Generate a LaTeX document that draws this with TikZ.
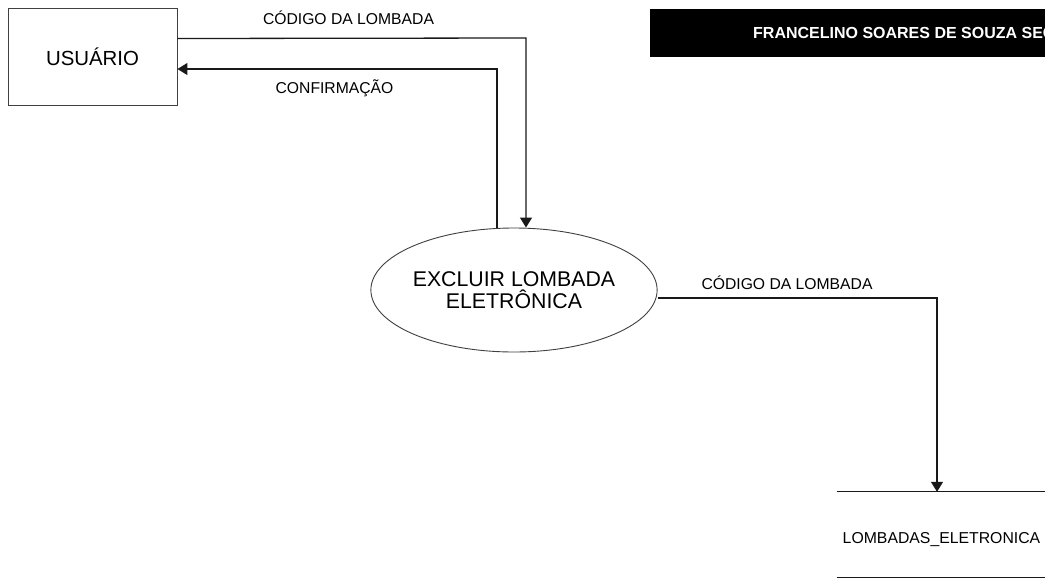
\documentclass[tikz,border=0pt]{standalone}
\usepackage{fontspec}
\setmainfont{Liberation Sans}
\usetikzlibrary{arrows.meta,shapes.geometric}
\tikzset{
  flow/.style={line width=1.3pt, draw=black!90},
  tip/.style={-{Triangle[width=12pt,length=10pt]}},
  lbl/.style={font=\fontsize{15.7}{18}\selectfont, inner sep=0pt},
  entity/.style={draw=black!75, line width=0.9pt, minimum width=169pt, minimum height=97pt, inner sep=0pt, font=\fontsize{20.4}{24}\selectfont},
  proc/.style={ellipse, draw=black!75, line width=0.9pt, minimum width=248pt, minimum height=124pt, inner sep=0pt, align=center, font=\fontsize{21.3}{22.5}\selectfont},
}
\begin{document}
\begin{tikzpicture}[x=1pt,y=-1pt]
\useasboundingbox (0,0) rectangle (1045,587);
\fill[white] (0,0) rectangle (1045,587);

% banner
\node[fill=black, minimum width=395pt, minimum height=48pt, inner sep=0pt, anchor=north west] (banner) at (650,9) {};
\begin{scope}
  \clip (banner.north west) rectangle (banner.south east);
  \node[anchor=west, text=white, inner sep=0pt, font=\fontsize{16}{19}\selectfont\bfseries] (bannertext) at (753,33) {FRANCELINO SOARES DE SOUZA SEC};
\end{scope}

% entity
\node[entity] (u) at (92.5,56.5) {USUÁRIO};

% process
\node[proc] (e) at (514,290) {EXCLUIR LOMBADA\\ELETRÔNICA};

% data store
\node[minimum width=208pt, minimum height=85pt, inner sep=0pt] (s) at (941,534.5) {};
\draw[flow] (s.north west) -- (s.north east);
\draw[flow] (s.south west) -- (s.south east);
\node[font=\fontsize{15.8}{18}\selectfont, inner sep=0pt] (st) at (941.5,540) {LOMBADAS\_ELETRONICA};

% connectors
\coordinate (c1) at (526,38);
\coordinate (c2) at (497,69);
\coordinate (c3) at (937,298);
\draw[flow,tip] ([yshift=18pt]u.east) -- (c1) -- (c1 |- e.north);
\draw[flow,tip] (c2 |- e.north) -- (c2) -- ([yshift=-12.5pt]u.east);
\draw[flow,tip] ([yshift=-8pt]e.east) -- (c3) -- (c3 |- s.north);

% labels
\node[lbl] (l1) at (348.5,18) {CÓDIGO DA LOMBADA};
\node[lbl] (l2) at (334.5,88) {CONFIRMAÇÃO};
\node[lbl] (l3) at (787,283) {CÓDIGO DA LOMBADA};
\end{tikzpicture}
\end{document}
